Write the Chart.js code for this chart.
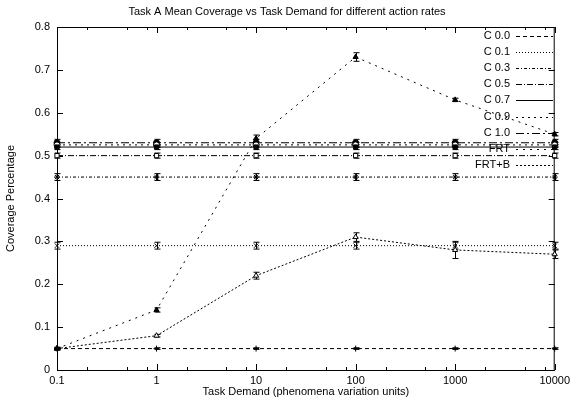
<!DOCTYPE html>
<html><head><meta charset="utf-8">
<script src="https://cdn.jsdelivr.net/npm/chart.js@4/dist/chart.umd.min.js"></script>
<style>html,body{margin:0;padding:0;background:#fff}canvas{display:block}</style>
</head><body>
<canvas id="c" width="574" height="403"></canvas>
<script>
const demand = [0.1, 1, 10, 100, 1000, 10000];
const xTickValues = [0.1, 1, 10, 100, 1000, 10000];
const seriesLabels = ['C 0.0','C 0.1','C 0.3','C 0.5','C 0.7','C 0.9','C 1.0','FRT','FRT+B'];
const c00 = [0.05, 0.05, 0.05, 0.05, 0.05, 0.05];
const c01 = [0.29, 0.29, 0.29, 0.29, 0.29, 0.29];
const c03 = [0.45, 0.45, 0.45, 0.45, 0.45, 0.45];
const c05 = [0.50, 0.50, 0.50, 0.50, 0.50, 0.50];
const c07 = [0.52, 0.52, 0.52, 0.52, 0.52, 0.52];
const c09 = [0.525, 0.525, 0.525, 0.525, 0.525, 0.525];
const c10 = [0.53, 0.53, 0.53, 0.53, 0.53, 0.53];
const frt = [0.05, 0.14, 0.54, 0.73, 0.63, 0.55];
const frtb = [0.05, 0.08, 0.22, 0.31, 0.28, 0.27];
const errC = [0.002, 0.008, 0.008, 0.006, 0.006, 0.006, 0.008, 0, 0];
const errFrt = [0.003, 0.005, 0.008, 0.01, 0.004, 0.004];
const errFrtb = [0.003, 0.003, 0.008, 0.01, 0.02, 0.01];
const yTickValues = [0, 0.1, 0.2, 0.3, 0.4, 0.5, 0.6, 0.7, 0.8];

const values = [c00, c01, c03, c05, c07, c09, c10, frt, frtb];
const dashes = [[4,3],[1,2],[3,2,1,2],[6,2,1,2],[],[2,4],[8,3,2,3],[2,5],[2,2]];
const pStyles = ['cross','crossRot','star','rect','rect','circle','circle','triangle','triangle'];
const pFill = ['#000','#000','#000','#fff','#000','#fff','#000','#000','#fff'];

const datasets = values.map((arr, i) => ({
  label: seriesLabels[i],
  data: arr.map((v, j) => ({x: demand[j], y: v})),
  borderColor: '#000',
  borderWidth: 1,
  borderDash: dashes[i],
  pointStyle: pStyles[i],
  pointRadius: 3,
  pointBorderWidth: 1,
  pointBorderColor: '#000',
  pointBackgroundColor: pFill[i],
  fill: false,
  tension: 0,
  clip: false
}));

function errFor(i, j) {
  if (i === 7) return errFrt[j];
  if (i === 8) return errFrtb[j];
  return errC[i];
}

const decorPlugin = {
  id: 'decor',
  beforeDatasetsDraw(chart) {
    const {ctx, chartArea: a, scales: {x, y}} = chart;
    ctx.save();
    ctx.strokeStyle = '#000';
    ctx.lineWidth = 1;
    ctx.setLineDash([]);
    ctx.beginPath();
    // y ticks inward, left and right
    yTickValues.forEach(v => {
      const py = Math.round(y.getPixelForValue(v)) + 0.5;
      ctx.moveTo(a.left, py); ctx.lineTo(a.left + 6, py);
      ctx.moveTo(a.right, py); ctx.lineTo(a.right - 6, py);
    });
    // x major + minor ticks
    xTickValues.forEach((v, k) => {
      const px = Math.round(x.getPixelForValue(v)) + 0.5;
      ctx.moveTo(px, a.bottom); ctx.lineTo(px, a.bottom - 6);
      ctx.moveTo(px, a.top); ctx.lineTo(px, a.top + 6);
      if (k < xTickValues.length - 1) {
        [2, 5, 8].forEach(m => {
          const mx = Math.round(x.getPixelForValue(v * m)) + 0.5;
          ctx.moveTo(mx, a.bottom); ctx.lineTo(mx, a.bottom - 3);
          ctx.moveTo(mx, a.top); ctx.lineTo(mx, a.top + 3);
        });
      }
    });
    ctx.stroke();
    ctx.strokeRect(a.left + 0.5, a.top + 0.5, a.right - a.left - 1, a.bottom - a.top);
    // error bars
    ctx.beginPath();
    values.forEach((arr, i) => {
      arr.forEach((v, j) => {
        const e = errFor(i, j);
        if (!e) return;
        const px = Math.round(x.getPixelForValue(demand[j])) + 0.5;
        const y1 = y.getPixelForValue(v - e), y2 = y.getPixelForValue(v + e);
        ctx.moveTo(px, y1); ctx.lineTo(px, y2);
        ctx.moveTo(px - 3, y1); ctx.lineTo(px + 3, y1);
        ctx.moveTo(px - 3, y2); ctx.lineTo(px + 3, y2);
      });
    });
    ctx.stroke();
    ctx.restore();
  },
  afterDraw(chart) {
    const {ctx, chartArea: a} = chart;
    ctx.save();
    ctx.fillStyle = '#000';
    ctx.font = '11px "Liberation Sans", Arial, sans-serif';
    ctx.textAlign = 'center';
    ctx.textBaseline = 'middle';
    ctx.fillText('Task A Mean Coverage vs Task Demand for different action rates', 287, 12);
    // legend
    ctx.textAlign = 'right';
    ctx.strokeStyle = '#000';
    ctx.lineWidth = 1;
    chart.data.datasets.forEach((ds, i) => {
      const ly = 36 + i * 16.1;
      ctx.fillText(ds.label, 510, ly);
      ctx.setLineDash(ds.borderDash);
      ctx.beginPath();
      ctx.moveTo(516, Math.round(ly) + 0.5);
      ctx.lineTo(553, Math.round(ly) + 0.5);
      ctx.stroke();
    });
    ctx.restore();
  }
};

new Chart(document.getElementById('c'), {
  type: 'line',
  data: { datasets },
  options: {
    responsive: false,
    animation: false,
    layout: { padding: { left: 0, top: 27, right: 17, bottom: 0 } },
    plugins: { legend: { display: false }, tooltip: { enabled: false }, title: { display: false } },
    scales: {
      x: {
        type: 'logarithmic',
        min: 0.1, max: 10000,
        afterBuildTicks(s) { s.ticks = xTickValues.map(v => ({value: v})); },
        afterFit(s) { s.height = 33; },
        grid: { display: false, drawTicks: false },
        border: { display: false },
        ticks: {
          color: '#000', padding: 4, maxRotation: 0, autoSkip: false,
          font: { family: '"Liberation Sans", Arial, sans-serif', size: 11 },
          callback: (v) => String(v)
        },
        title: {
          display: true, text: 'Task Demand (phenomena variation units)', color: '#000',
          font: { family: '"Liberation Sans", Arial, sans-serif', size: 11 },
          padding: { top: 2, bottom: 4 }
        }
      },
      y: {
        min: 0, max: 0.8,
        afterBuildTicks(s) { s.ticks = yTickValues.map(v => ({value: v})); },
        afterFit(s) { s.width = 57; },
        grid: { display: false, drawTicks: false },
        border: { display: false },
        ticks: {
          color: '#000', padding: 7,
          font: { family: '"Liberation Sans", Arial, sans-serif', size: 11 },
          callback: (v) => String(Math.round(v * 10) / 10)
        },
        title: {
          display: true, text: 'Coverage Percentage', color: '#000',
          font: { family: '"Liberation Sans", Arial, sans-serif', size: 11 },
          padding: { top: 4, bottom: 0 }
        }
      }
    }
  },
  plugins: [decorPlugin]
});
</script>
</body></html>
